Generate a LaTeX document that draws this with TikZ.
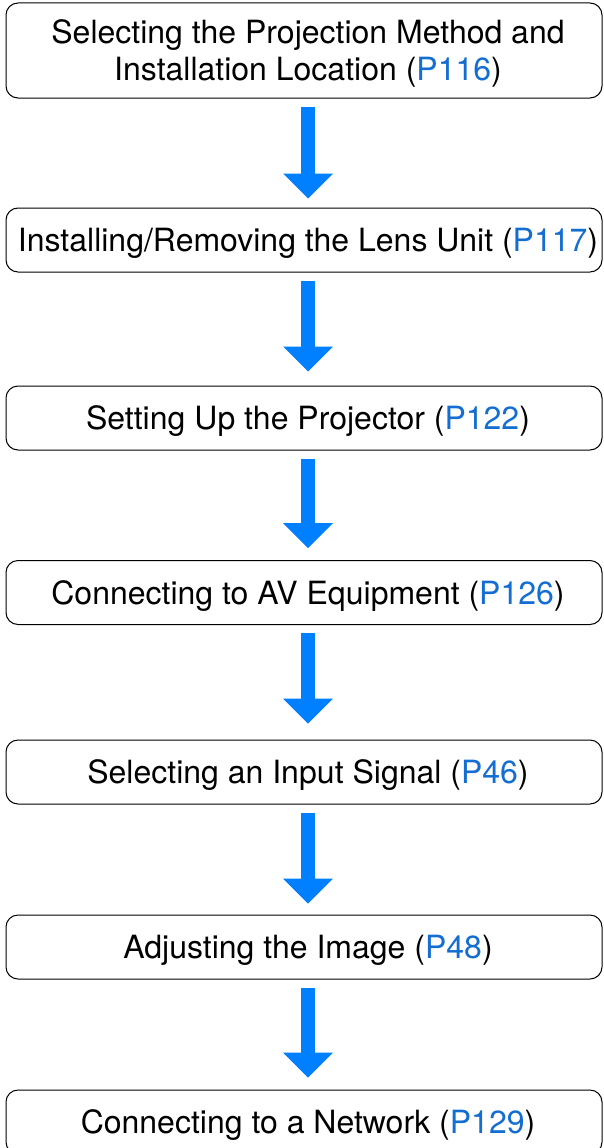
\documentclass[tikz,border=0pt]{standalone}
\usepackage{fontspec}
\setmainfont{TeX Gyre Heros}
\usetikzlibrary{arrows.meta}
\definecolor{arrowblue}{RGB}{0,128,255}
\definecolor{linkblue}{RGB}{20,110,210}
\newcommand{\lnk}[1]{\textcolor{linkblue}{#1}}
\newcommand{\ind}{\hspace*{8pt}}
\begin{document}
\begin{tikzpicture}[x=1pt,y=-1pt,
  stepbox/.style={draw=black, line width=1pt, rounded corners=12pt, fill=white,
    minimum width=596pt, inner sep=0pt, align=center,
    font=\fontsize{32}{37}\selectfont},
  oneline/.style={stepbox, minimum height=64pt, text height=27pt, text depth=4pt},
  flow/.style={draw=arrowblue, line width=14pt,
    -{Triangle[width=50pt,length=25pt,line width=0pt]},
    shorten <=8pt}]
\useasboundingbox (0,0) rectangle (603,1148);
\fill[white] (0,0) rectangle (603,1148);
\node[stepbox, minimum height=95pt, text height=64pt, text depth=3.7pt] (b1) at (304,50.5) {\ind Selecting the Projection Method and\\\ind Installation Location (\lnk{P116})};
\node[oneline] (b2) at (304,240) {\ind Installing/Removing the Lens Unit (\lnk{P117})};
\node[oneline] (b3) at (304,418) {\ind Setting Up the Projector (\lnk{P122})};
\node[oneline] (b4) at (304,592.5) {\ind Connecting to AV Equipment (\lnk{P126})};
\node[oneline] (b5) at (304,772) {\ind Selecting an Input Signal (\lnk{P46})};
\node[oneline] (b6) at (304,947) {\ind Adjusting the Image (\lnk{P48})};
\node[oneline] (b7) at (304,1122) {\ind Connecting to a Network (\lnk{P129})};
\draw[flow, shorten >=9pt] ([xshift=4pt]b1.south) -- ([xshift=4pt]b2.north);
\draw[flow, shorten >=14pt] ([xshift=4pt]b2.south) -- ([xshift=4pt]b3.north);
\draw[flow, shorten >=12pt] ([xshift=4pt]b3.south) -- ([xshift=4pt]b4.north);
\draw[flow, shorten >=16pt] ([xshift=4pt]b4.south) -- ([xshift=4pt]b5.north);
\draw[flow, shorten >=11pt] ([xshift=4pt]b5.south) -- ([xshift=4pt]b6.north);
\draw[flow, shorten >=12pt] ([xshift=4pt]b6.south) -- ([xshift=4pt]b7.north);
\end{tikzpicture}
\end{document}
